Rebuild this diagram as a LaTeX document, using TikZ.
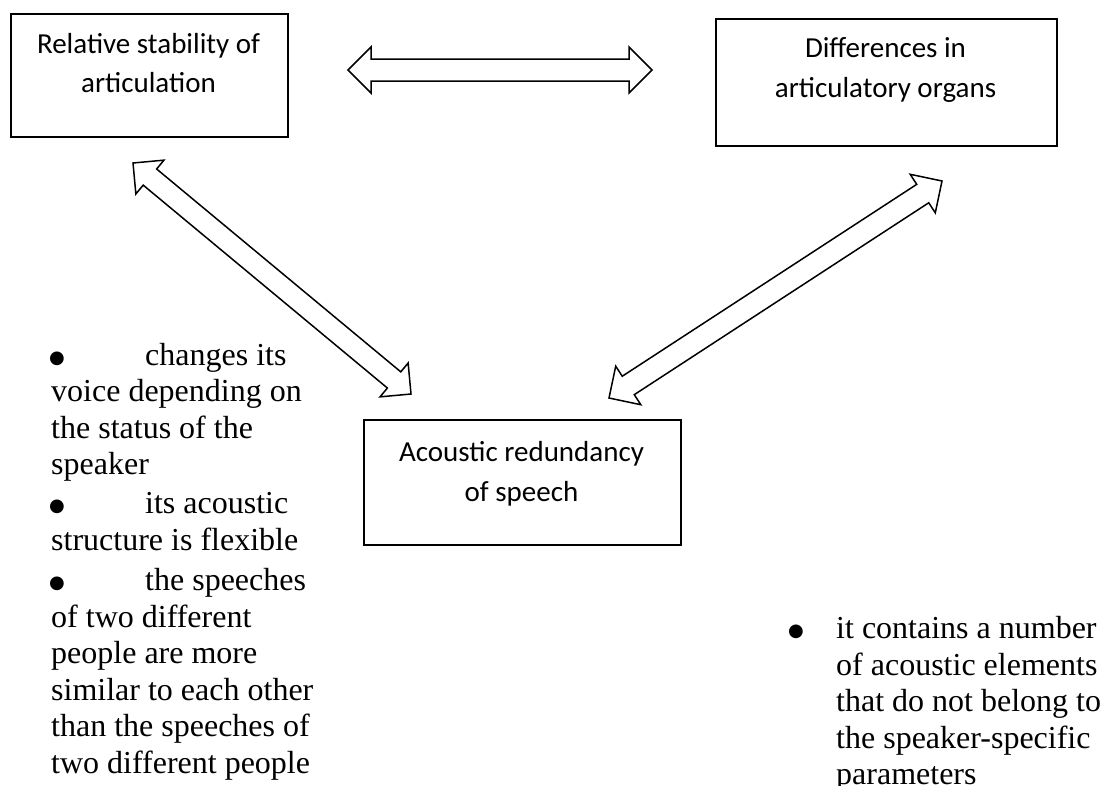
\documentclass[tikz,border=0pt]{standalone}
\usepackage{fontspec}
\setmainfont{Liberation Serif}
\newfontfamily\boxfont{Carlito}
\newfontfamily\bulletfont{DejaVu Sans}
\usetikzlibrary{calc}
% block double arrow between two named coordinates: #3 head half-width/length, #4 shaft half-width
\newcommand\blockdblarrow[4]{%
  \coordinate (#1-#2-ha) at ($(#1)!#3!(#2)$);
  \coordinate (#1-#2-hb) at ($(#2)!#3!(#1)$);
  \draw[arrowline] (#1)
    -- ($(#1-#2-ha)!#3!90:(#2)$) -- ($(#1-#2-ha)!#4!90:(#2)$)
    -- ($(#1-#2-hb)!#4!-90:(#1)$) -- ($(#1-#2-hb)!#3!-90:(#1)$)
    -- (#2)
    -- ($(#1-#2-hb)!#3!90:(#1)$) -- ($(#1-#2-hb)!#4!90:(#1)$)
    -- ($(#1-#2-ha)!#4!-90:(#2)$) -- ($(#1-#2-ha)!#3!-90:(#2)$)
    -- cycle;
}
\tikzset{
  box/.style={draw, line width=1.5pt, inner sep=0pt, anchor=north west},
  boxtext/.style={font=\boxfont\fontsize{29}{35}\selectfont, inner sep=0pt, anchor=base},
  listtext/.style={font=\fontsize{32}{38}\selectfont, inner sep=0pt, anchor=base west},
  bullet/.style={font=\bulletfont\fontsize{18}{20}\selectfont, inner sep=0pt, anchor=base west},
  arrowline/.style={draw, line width=1.5pt, line join=miter, fill=white},
}
\begin{document}
\begin{tikzpicture}[x=1pt, y=-1pt]
\useasboundingbox (0,0) rectangle (1103,785);
\clip (0,0) rectangle (1103,785);

% boxes
\node[box, minimum width=277pt, minimum height=123pt] (b1) at (10,13) {};
\node[box, minimum width=341pt, minimum height=127pt] (b2) at (715,18) {};
\node[box, minimum width=317pt, minimum height=125pt] (b3) at (363,419) {};

\node[boxtext] (b1t1) at (148.5,53) {Relative stability of};
\node[boxtext] (b1t2) at (148.5,92) {articulation};
\node[boxtext] (b2t1) at (885.5,57) {Differences in};
\node[boxtext] (b2t2) at (885.5,97) {articulatory organs};
\node[boxtext] (b3t1) at (521.5,461) {Acoustic redundancy};
\node[boxtext] (b3t2) at (521.5,501) {of speech};

% arrow ends
\coordinate (hL) at (348,70);
\coordinate (hR) at (652,70);
\coordinate (d1a) at (133,163);
\coordinate (d1b) at (411,394);
\coordinate (d2a) at (942,181);
\coordinate (d2b) at (609,398);

\blockdblarrow{hL}{hR}{23pt}{11pt}
\blockdblarrow{d1a}{d1b}{22pt}{10.5pt}
\blockdblarrow{d2a}{d2b}{23pt}{11pt}

% left list
\node[bullet] (lb1) at (49,363) {●};
\node[listtext] (l1) at (145,365) {changes its};
\node[listtext] (l2) at (51,401.5) {voice depending on};
\node[listtext] (l3) at (51,438) {the status of the};
\node[listtext] (l4) at (51,474.5) {speaker};
\node[bullet] (lb2) at (49,511) {●};
\node[listtext] (l5) at (145,513) {its acoustic};
\node[listtext] (l6) at (51,550) {structure is flexible};
\node[bullet] (lb3) at (49,588) {●};
\node[listtext] (l7) at (145,590) {the speeches};
\node[listtext] (l8) at (51,627) {of two different};
\node[listtext] (l9) at (51,663.5) {people are more};
\node[listtext] (l10) at (51,700) {similar to each other};
\node[listtext] (l11) at (51,736.5) {than the speeches of};
\node[listtext] (l12) at (51,773) {two different people};

% right list
\node[bullet] (rb1) at (788,636) {●};
\node[listtext] (r1) at (836,638) {it contains a number};
\node[listtext] (r2) at (836,675) {of acoustic elements};
\node[listtext] (r3) at (836,711.5) {that do not belong to};
\node[listtext] (r4) at (836,748) {the speaker-specific};
\node[listtext] (r5) at (836,784) {parameters};
\end{tikzpicture}
\end{document}
